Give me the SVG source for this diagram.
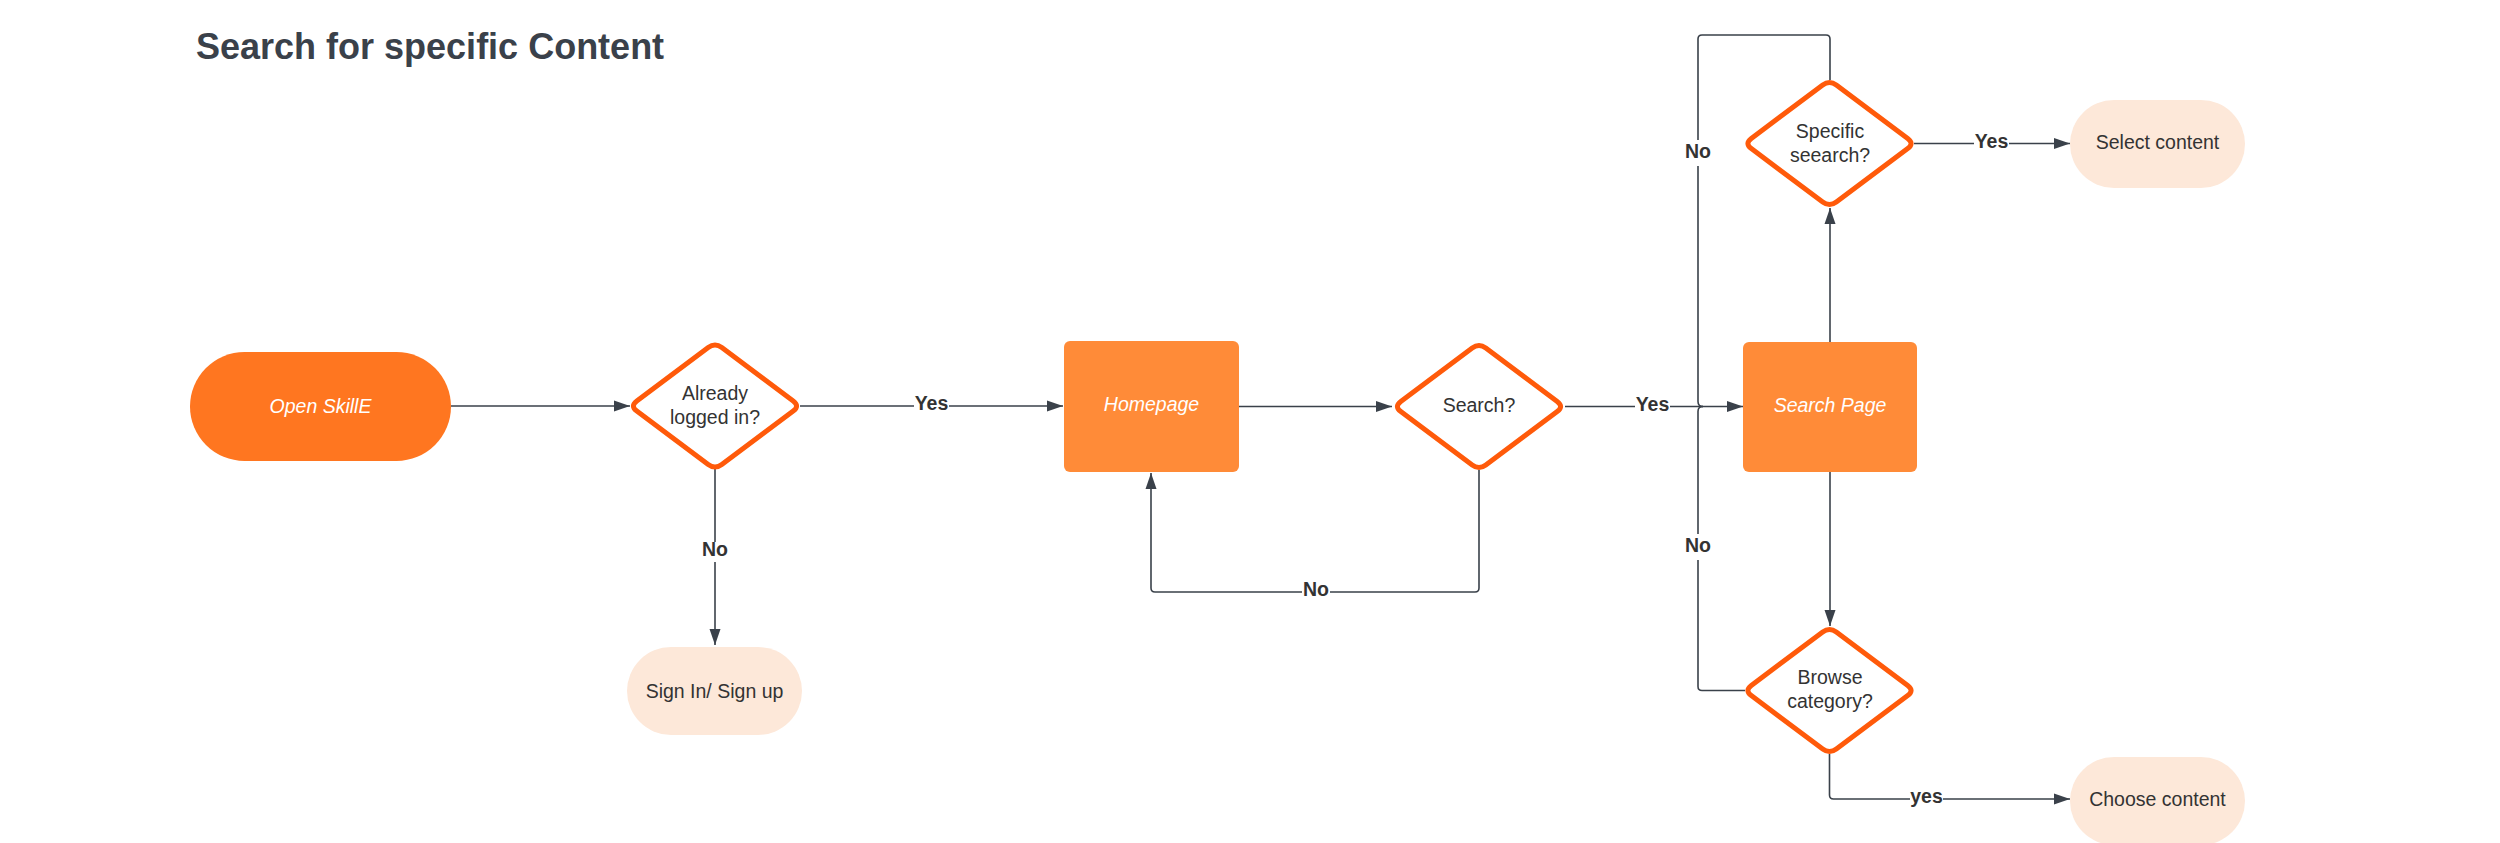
<svg xmlns="http://www.w3.org/2000/svg" width="2500" height="843" viewBox="0 0 2500 843">
<style>
.t{font-family:"Liberation Sans",Arial,sans-serif;font-size:19.5px;fill:#333333;text-anchor:middle}
.it{font-style:italic;fill:#ffffff}
.lbl{font-family:"Liberation Sans",Arial,sans-serif;font-size:19.5px;font-weight:bold;fill:#333333;text-anchor:middle}
.c{fill:none;stroke:#3a414a;stroke-width:1.6}
.dia{fill:#ffffff;stroke:#ff5a0a;stroke-width:5}
.peach{fill:#fde8d9}
.bg{fill:#ffffff}
</style>
<defs>
<marker id="ah" markerUnits="userSpaceOnUse" markerWidth="17" markerHeight="12" refX="16" refY="6" orient="auto">
<path d="M0,0.5 L16,6 L0,11.5 z" fill="#3a414a"/>
</marker>
<path id="dpath" d="M -78.2,-5.08 L -6.8,-58.42 Q 0,-63.5 6.8,-58.42 L 78.2,-5.08 Q 85,0 78.2,5.08 L 6.8,58.42 Q 0,63.5 -6.8,58.42 L -78.2,5.08 Q -85,0 -78.2,-5.08 Z"/>
</defs>
<rect width="2500" height="843" fill="#ffffff"/>
<text x="196" y="59" font-family="Liberation Sans, Arial, sans-serif" font-size="36" font-weight="bold" fill="#3a414a">Search for specific Content</text>

<g id="connectors">
<path class="c" d="M451,406 H630" marker-end="url(#ah)"/>
<path class="c" d="M800,406 H1063" marker-end="url(#ah)"/>
<path class="c" d="M715,469 V645" marker-end="url(#ah)"/>
<path class="c" d="M1239,406.5 H1392" marker-end="url(#ah)"/>
<path class="c" d="M1479,470 V588 Q1479,592 1475,592 H1155 Q1151,592 1151,588 V473" marker-end="url(#ah)"/>
<path class="c" d="M1565,406.5 H1743" marker-end="url(#ah)"/>
<path class="c" d="M1830,342 V208" marker-end="url(#ah)"/>
<path class="c" d="M1830,472 V626" marker-end="url(#ah)"/>
<path class="c" d="M1914,143.5 H2070" marker-end="url(#ah)"/>
<path class="c" d="M1830,80 V39 Q1830,35 1826,35 H1702 Q1698,35 1698,39 V401.5 Q1698,406.5 1703,406.5"/>
<path class="c" d="M1745,690.5 H1702 Q1698,690.5 1698,686.5 V411.5 Q1698,406.5 1703,406.5"/>
<path class="c" d="M1829.5,754 V795 Q1829.5,799 1833.5,799 H2070" marker-end="url(#ah)"/>
<g id="labels">
<rect class="bg" x="914" y="396" width="35" height="20"/><text class="lbl" x="931.5" y="410">Yes</text>
<rect class="bg" x="701" y="542" width="28" height="20"/><text class="lbl" x="715" y="556">No</text>
<rect class="bg" x="1302" y="582" width="28" height="20"/><text class="lbl" x="1316" y="596">No</text>
<rect class="bg" x="1635" y="396" width="35" height="20"/><text class="lbl" x="1652.5" y="410.5">Yes</text>
<rect class="bg" x="1974" y="133" width="35" height="20"/><text class="lbl" x="1991.5" y="147.5">Yes</text>
<rect class="bg" x="1684" y="140" width="28" height="26"/><text class="lbl" x="1698" y="158">No</text>
<rect class="bg" x="1684" y="534" width="28" height="26"/><text class="lbl" x="1698" y="552">No</text>
<rect class="bg" x="1910" y="789" width="33" height="20"/><text class="lbl" x="1926.5" y="803">yes</text>
</g>
</g>

<g id="open-skille">
<rect x="190" y="352" width="261" height="109" rx="54.5" fill="#ff7620"/>
<text class="t it" x="320.5" y="413">Open SkillE</text>
</g>
<g id="already-logged-in">
<use href="#dpath" class="dia" x="715" y="406"/>
<text class="t" x="715" y="400">Already</text>
<text class="t" x="715" y="424">logged in?</text>
</g>
<g id="sign-in">
<rect class="peach" x="627" y="647" width="175" height="88" rx="44"/>
<text class="t" x="714.5" y="698">Sign In/ Sign up</text>
</g>
<g id="homepage">
<rect x="1064" y="341" width="175" height="131" rx="6" fill="#ff8b38"/>
<text class="t it" x="1151.5" y="411">Homepage</text>
</g>
<g id="search">
<use href="#dpath" class="dia" x="1479" y="406.5"/>
<text class="t" x="1479" y="411.5">Search?</text>
</g>
<g id="search-page">
<rect x="1743" y="342" width="174" height="130" rx="6" fill="#ff8b38"/>
<text class="t it" x="1830" y="412">Search Page</text>
</g>
<g id="specific-search">
<use href="#dpath" class="dia" x="1829.5" y="143.5"/>
<text class="t" x="1830" y="138">Specific</text>
<text class="t" x="1830" y="162">seearch?</text>
</g>
<g id="select-content">
<rect class="peach" x="2070" y="100" width="175" height="88" rx="44"/>
<text class="t" x="2157.5" y="149">Select content</text>
</g>
<g id="browse-category">
<use href="#dpath" class="dia" x="1829.5" y="690.5"/>
<text class="t" x="1830" y="684">Browse</text>
<text class="t" x="1830" y="708">category?</text>
</g>
<g id="choose-content">
<rect class="peach" x="2070" y="757" width="175" height="88" rx="44"/>
<text class="t" x="2157.5" y="806">Choose content</text>
</g>
</svg>
